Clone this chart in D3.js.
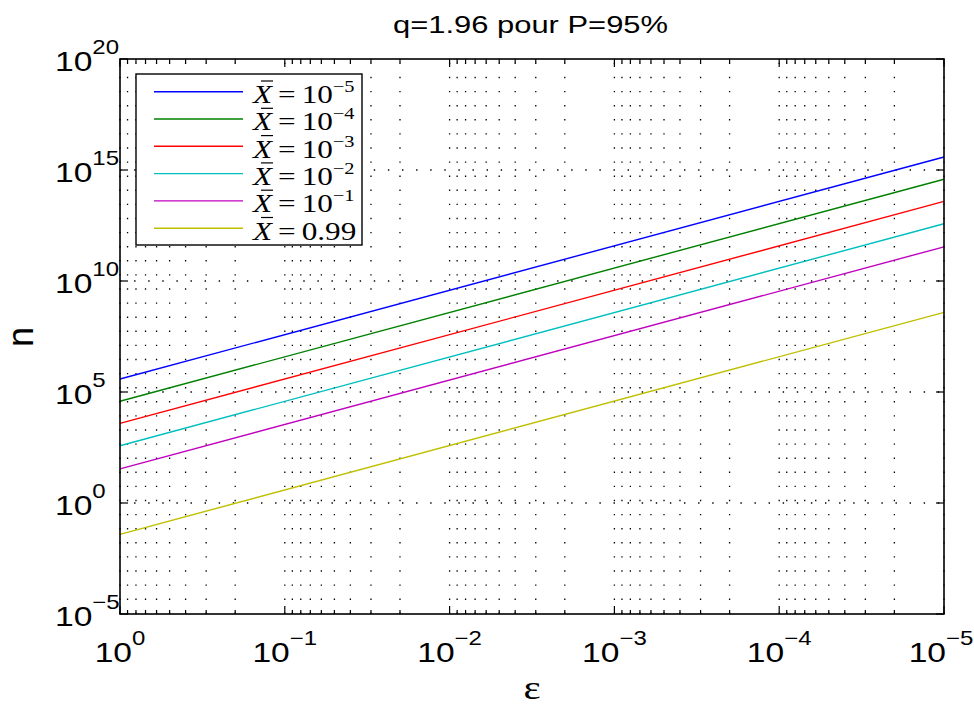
<!DOCTYPE html>
<html><head><meta charset="utf-8">
<script src="https://cdn.jsdelivr.net/npm/d3@7"></script>
<style>body{margin:0;background:#fff}svg{display:block}</style>
</head><body>
<svg id="c" width="974" height="705"></svg>
<script>
const titleText = "q=1.96 pour P=95%";
const xLabelText = "ε";
const yLabelText = "n";
const epsEnds = [1, 1e-5];
const legendBase = ["10","10","10","10","10","0.99"];
const legendExp = ["−5","−4","−3","−2","−1",""];
const seriesColors = ["#0000ff","#008000","#ff0000","#00bfbf","#bf00bf","#bfbf00"];
const nAtEps1 = [3.84e5, 3.84e4, 3.84e3, 3.8e2, 34.6, 0.0388];
const nAtEps1e5 = [3.84e15, 3.84e14, 3.84e13, 3.8e12, 3.46e11, 3.88e8];
const xTickExps = [0,-1,-2,-3,-4,-5];
const yTickExps = [-5,0,5,10,15,20];

const L=120, R=944, T=59, B=614;
const SX = 1.2; // horizontal glyph stretch seen in the reference
const svg = d3.select("#c");
const x = d3.scaleLog().domain([1,1e-5]).range([L,R]);
const y = d3.scaleLog().domain([1e-5,1e20]).range([B,T]);
const sansF = "'Liberation Sans', Arial, Helvetica, sans-serif";
const serifF = "'Liberation Serif', 'Times New Roman', serif";

svg.append("rect").attr("x",0).attr("y",0).attr("width",974).attr("height",705).attr("fill","#fff");

// grid
const allX = x.ticks();
const isMajor = v => Math.abs(Math.log10(v) - Math.round(Math.log10(v))) < 1e-9;
const g = svg.append("g");
g.selectAll("line.vg").data(allX).join("line")
  .attr("x1",d=>x(d)).attr("x2",d=>x(d)).attr("y1",B).attr("y2",T)
  .attr("stroke","#000").attr("stroke-width",1.3).attr("stroke-dasharray","1.4,12.7");
g.selectAll("line.hg").data(yTickExps.filter(e=>e>-5 && e<20)).join("line")
  .attr("x1",L).attr("x2",R).attr("y1",e=>y(Math.pow(10,e))).attr("y2",e=>y(Math.pow(10,e)))
  .attr("stroke","#000").attr("stroke-width",1.3).attr("stroke-dasharray","1.4,12.7");

// series
const line = d3.line().x(d=>x(d[0])).y(d=>y(d[1]));
svg.append("g").selectAll("path").data(nAtEps1.map((v,i)=>[[epsEnds[0],v],[epsEnds[1],nAtEps1e5[i]]])).join("path")
  .attr("d",line).attr("fill","none").attr("stroke",(d,i)=>seriesColors[i]).attr("stroke-width",1.4);

// ticks
const tk = svg.append("g").attr("stroke","#000").attr("stroke-width",1.2);
allX.forEach(v=>{
  const len = isMajor(v)?8:4;
  tk.append("line").attr("x1",x(v)).attr("x2",x(v)).attr("y1",B).attr("y2",B-len);
  tk.append("line").attr("x1",x(v)).attr("x2",x(v)).attr("y1",T).attr("y2",T+len);
});
yTickExps.forEach(e=>{
  const yy = y(Math.pow(10,e));
  tk.append("line").attr("x1",L).attr("x2",L+8).attr("y1",yy).attr("y2",yy);
  tk.append("line").attr("x1",R).attr("x2",R-8).attr("y1",yy).attr("y2",yy);
});
// frame
svg.append("rect").attr("x",L).attr("y",T).attr("width",R-L).attr("height",B-T)
  .attr("fill","none").attr("stroke","#000").attr("stroke-width",1.6);

// tick labels
xTickExps.forEach(e=>{
  const t = svg.append("text").attr("transform",`translate(${x(Math.pow(10,e)) - (e===-5?3:0)},662) scale(${SX},1)`)
    .attr("text-anchor","middle").attr("font-family",sansF).attr("font-size",28).attr("fill","#000");
  t.append("tspan").text("10");
  t.append("tspan").attr("dy",-17).attr("font-size",20).text(e===0?"0":"−"+(-e));
});
yTickExps.forEach(e=>{
  const t = svg.append("text").attr("transform",`translate(55,${y(Math.pow(10,e))+11.5}) scale(${SX},1)`)
    .attr("text-anchor","start").attr("font-family",sansF).attr("font-size",28).attr("fill","#000");
  t.append("tspan").text("10");
  t.append("tspan").attr("dy",-17).attr("font-size",20).text(e<0?"−"+(-e):String(e));
});

// title & axis labels
svg.append("text").attr("x",530.5).attr("y",33).attr("text-anchor","middle")
  .attr("font-family",sansF).attr("font-size",24.5).attr("textLength",275).attr("lengthAdjust","spacingAndGlyphs")
  .text(titleText);
svg.append("text").attr("transform","translate(33,337) rotate(-90)").attr("text-anchor","middle")
  .attr("font-family",sansF).attr("font-size",36).text(yLabelText);
svg.append("text").attr("transform",`translate(532,699) scale(${SX},1)`).attr("text-anchor","middle")
  .attr("font-family",serifF).attr("font-size",34).text(xLabelText);

// legend
const lg = svg.append("g");
lg.append("rect").attr("x",136).attr("y",74).attr("width",226).attr("height",171)
  .attr("fill","#fff").attr("stroke","#000").attr("stroke-width",1.4);
legendBase.forEach((b,i)=>{
  const cy = 91.7 + i*27.3;
  lg.append("line").attr("x1",154).attr("x2",243).attr("y1",cy).attr("y2",cy)
    .attr("stroke",seriesColors[i]).attr("stroke-width",1.4);
  const base = cy + 11.3;
  const t = lg.append("text").attr("transform",`translate(253,${base}) scale(${SX},1)`)
    .attr("font-family",serifF).attr("font-size",26).attr("fill","#000");
  t.append("tspan").attr("font-style","italic").text("X");
  t.append("tspan").attr("dx",5).text("=");
  t.append("tspan").attr("dx",5).text(b);
  if (legendExp[i]) t.append("tspan").attr("dy",-11).attr("font-size",17).text(legendExp[i]);
  lg.append("line").attr("x1",261).attr("x2",273).attr("y1",base-22).attr("y2",base-22)
    .attr("stroke","#000").attr("stroke-width",1.2);
});
</script>
</body></html>
